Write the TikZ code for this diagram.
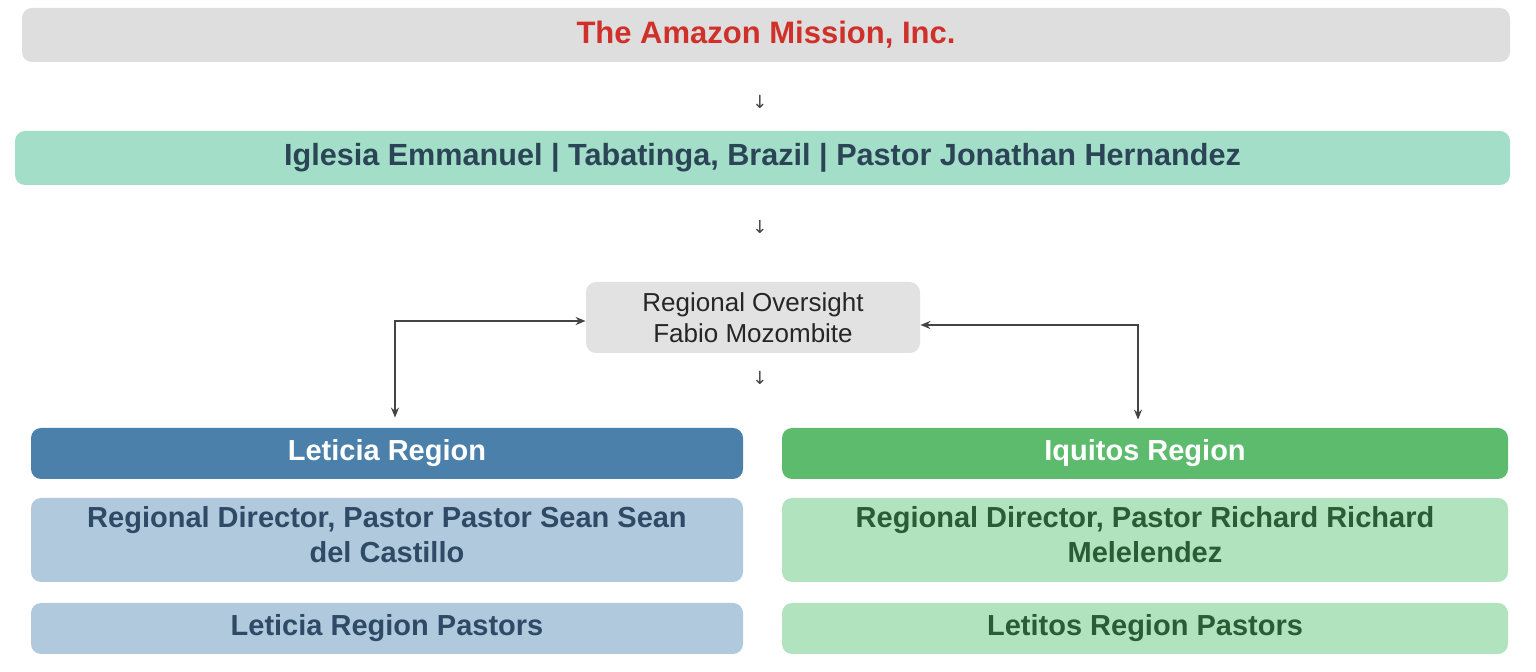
\documentclass[tikz,border=0pt]{standalone}
\usepackage{fontspec}
\setmainfont{Liberation Sans}
\newfontfamily\arrowfont{DejaVu Sans}
\usetikzlibrary{arrows.meta}

\definecolor{titlebg}{HTML}{DEDEDE}
\definecolor{titlered}{HTML}{D0302A}
\definecolor{churchbg}{HTML}{A3DEC9}
\definecolor{churchtxt}{HTML}{2B4556}
\definecolor{ovsbg}{HTML}{E2E2E2}
\definecolor{ltcdark}{HTML}{4A80AA}
\definecolor{ltclight}{HTML}{B0C9DC}
\definecolor{ltctxt}{HTML}{2F4A66}
\definecolor{iqtdark}{HTML}{5DBB6E}
\definecolor{iqtlight}{HTML}{B2E3BF}
\definecolor{iqttxt}{HTML}{2A5C35}
\definecolor{linkgray}{HTML}{444444}

\tikzset{
  box/.style={rounded corners=5pt, inner sep=0pt, align=center,
    font=\fontsize{14.5}{17.5}\selectfont\bfseries},
  leftbox/.style={box, minimum width=356pt},
  rightbox/.style={box, minimum width=363pt},
  downmark/.style={text=linkgray, font=\arrowfont\fontsize{9}{9}\selectfont},
  link/.style={{Stealth[length=5pt,width=4pt]}-{Stealth[length=5pt,width=4pt]},
    draw=linkgray, line width=0.8pt}
}

\begin{document}
\begin{tikzpicture}[x=0.5pt,y=-0.5pt]
  \useasboundingbox (0,0) rectangle (1536,672);
  \draw
    (766,35) node[box, fill=titlebg, text=titlered, minimum width=744pt,
      minimum height=27pt, font=\fontsize{15.5}{18}\selectfont\bfseries] (title) {The Amazon Mission, Inc.}
    (760,102) node[downmark] (d1) {↓}
    (762.5,158) node[box, fill=churchbg, text=churchtxt, minimum width=747.5pt,
      minimum height=27pt, font=\fontsize{15.3}{18}\selectfont\bfseries] (church)
      {Iglesia Emmanuel | Tabatinga, Brazil | Pastor Jonathan Hernandez}
    (760,227) node[downmark] (d2) {↓}
    (753,317.5) node[box, fill=ovsbg, text=black!85, minimum width=167pt,
      minimum height=35.5pt, font=\fontsize{13}{15.5}\selectfont] (ovs) {Regional Oversight\\Fabio Mozombite}
    (760,378) node[downmark] (d3) {↓}
    (387,453.5) node[leftbox, fill=ltcdark, text=white, minimum height=25.5pt] (ltc) {Leticia Region}
    (1145,453.5) node[rightbox, fill=iqtdark, text=white, minimum height=25.5pt] (iqt) {Iquitos Region}
    (387,540) node[leftbox, fill=ltclight, text=ltctxt, minimum height=42pt,
      text depth=6pt] (ltcdir) {Regional Director, Pastor Pastor Sean Sean\\del Castillo}
    (1145,540) node[rightbox, fill=iqtlight, text=iqttxt, minimum height=42pt,
      text depth=6pt] (iqtdir) {Regional Director, Pastor Richard Richard\\Melelendez}
    (387,628.5) node[leftbox, fill=ltclight, text=ltctxt, minimum height=25.5pt] (ltcpst) {Leticia Region Pastors}
    (1145,628.5) node[rightbox, fill=iqtlight, text=iqttxt, minimum height=25.5pt] (iqtpst) {Letitos Region Pastors};
  % oversight links
  \draw[link, shorten <=5pt] ([xshift=4pt]ltc.north) |- ([yshift=-1.75pt]ovs.west);
  \draw[link, shorten <=4pt] ([xshift=-3.5pt]iqt.north) |- ([yshift=-3.75pt]ovs.east);
\end{tikzpicture}
\end{document}
